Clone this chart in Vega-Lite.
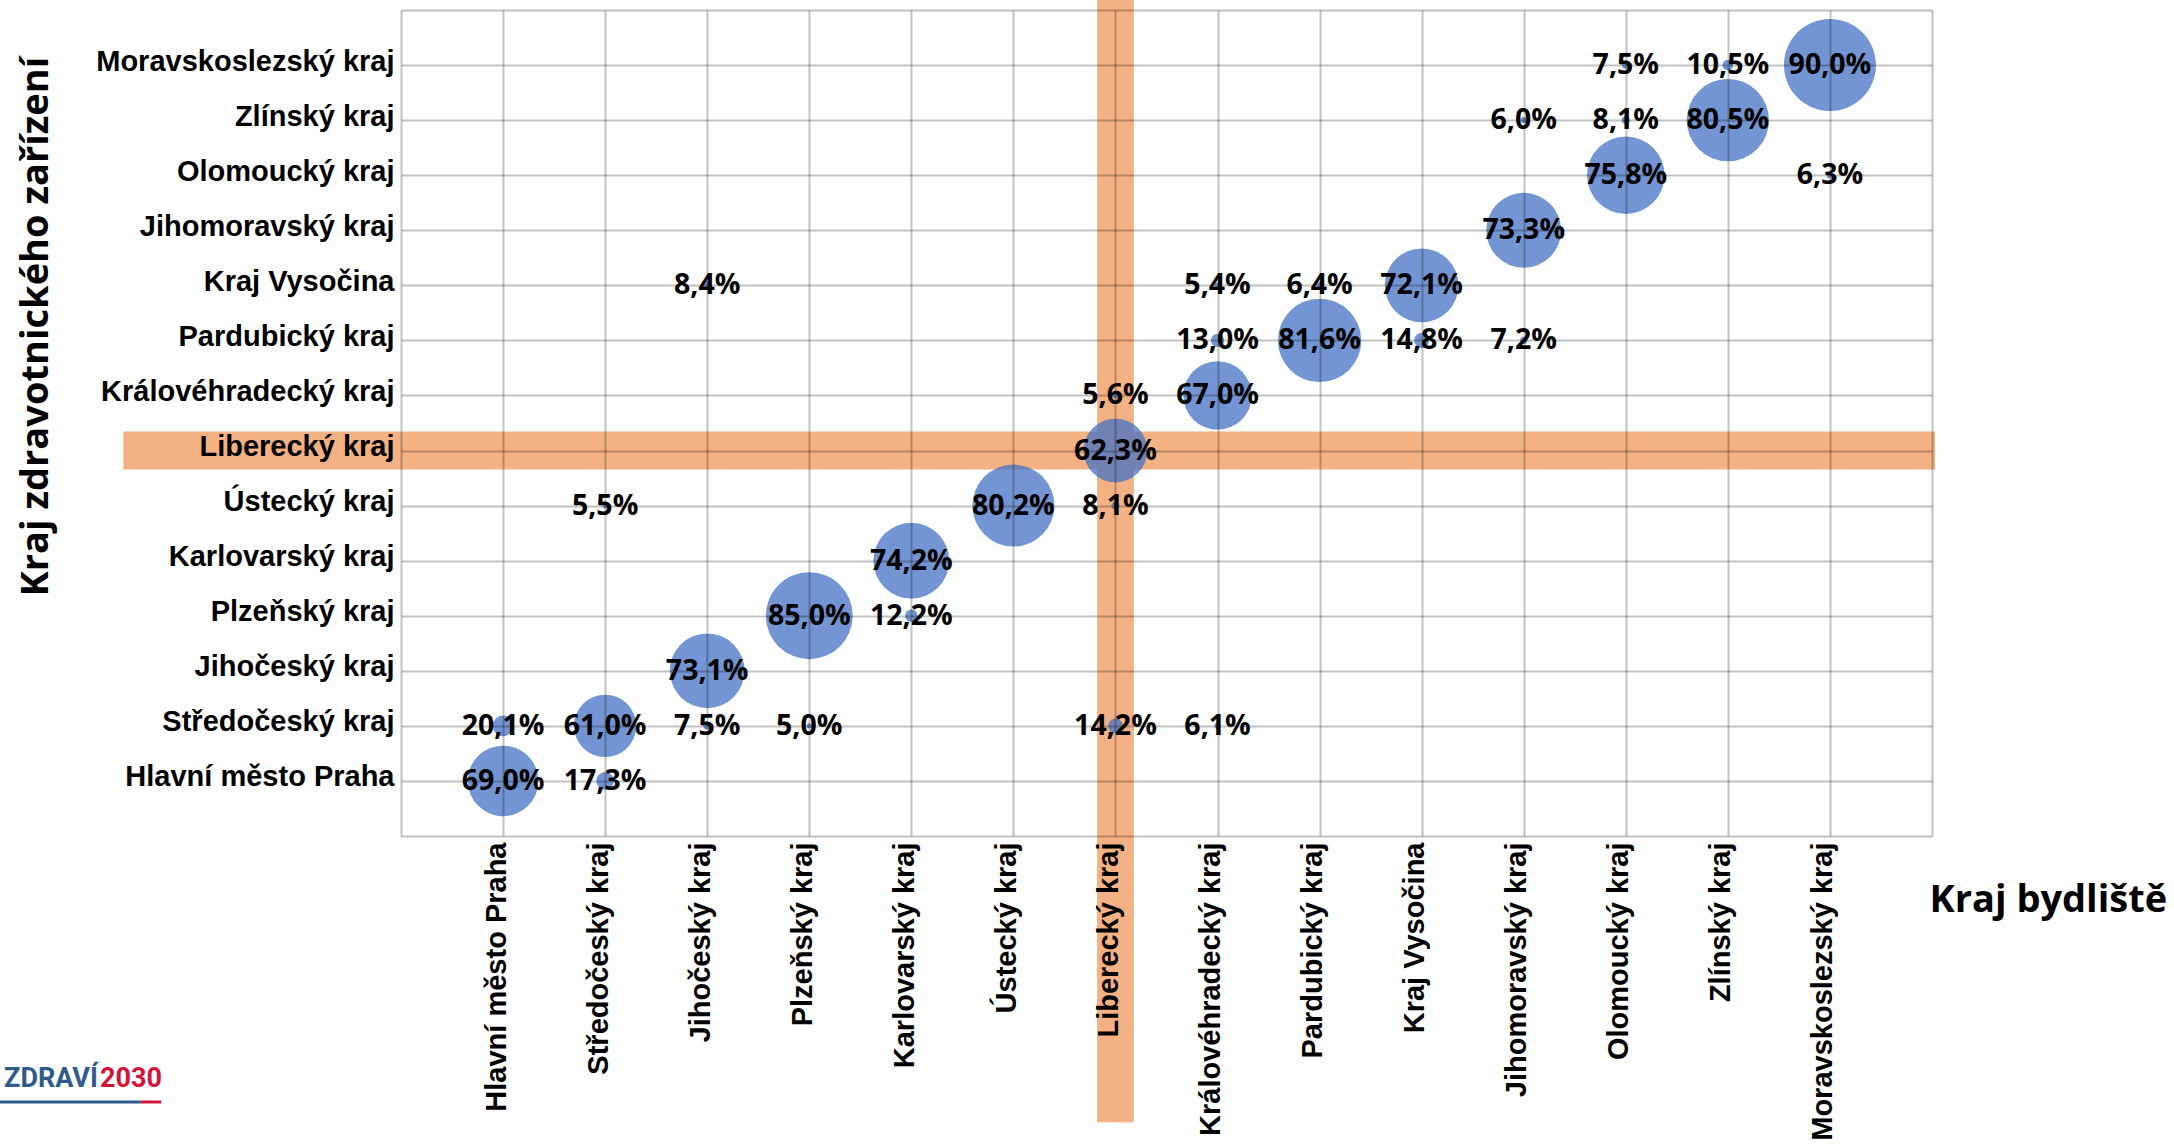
{
  "$schema": "https://vega.github.io/schema/vega-lite/v6.json",
  "width": 1531,
  "height": 826,
  "autosize": {"type": "none"},
  "padding": {"left": 401, "top": 10, "right": 242, "bottom": 308},
  "background": "white",
  "config": {
    "view": {"stroke": null},
    "locale": {"number": {"decimal": ",", "thousands": " ", "grouping": [3], "currency": ["", " Kč"]}}
  },
  "datasets": {
    "pasy": [
      {"pas": "Liberecký kraj (bydliště)", "x1": 6.82, "x2": 7.18, "y1": -5.2, "y2": 15.2},
      {"pas": "Liberecký kraj (zařízení)", "x1": -2.72, "x2": 15.03, "y1": 6.655, "y2": 7.345}
    ],
    "podily": [
      {"bydliste": "Hlavní město Praha", "zarizeni": "Hlavní město Praha", "bi": 1, "zi": 1, "podil": 0.690},
      {"bydliste": "Středočeský kraj", "zarizeni": "Hlavní město Praha", "bi": 2, "zi": 1, "podil": 0.173},
      {"bydliste": "Hlavní město Praha", "zarizeni": "Středočeský kraj", "bi": 1, "zi": 2, "podil": 0.201},
      {"bydliste": "Středočeský kraj", "zarizeni": "Středočeský kraj", "bi": 2, "zi": 2, "podil": 0.610},
      {"bydliste": "Jihočeský kraj", "zarizeni": "Středočeský kraj", "bi": 3, "zi": 2, "podil": 0.075},
      {"bydliste": "Plzeňský kraj", "zarizeni": "Středočeský kraj", "bi": 4, "zi": 2, "podil": 0.050},
      {"bydliste": "Liberecký kraj", "zarizeni": "Středočeský kraj", "bi": 7, "zi": 2, "podil": 0.142},
      {"bydliste": "Královéhradecký kraj", "zarizeni": "Středočeský kraj", "bi": 8, "zi": 2, "podil": 0.061},
      {"bydliste": "Jihočeský kraj", "zarizeni": "Jihočeský kraj", "bi": 3, "zi": 3, "podil": 0.731},
      {"bydliste": "Plzeňský kraj", "zarizeni": "Plzeňský kraj", "bi": 4, "zi": 4, "podil": 0.850},
      {"bydliste": "Karlovarský kraj", "zarizeni": "Plzeňský kraj", "bi": 5, "zi": 4, "podil": 0.122},
      {"bydliste": "Karlovarský kraj", "zarizeni": "Karlovarský kraj", "bi": 5, "zi": 5, "podil": 0.742},
      {"bydliste": "Středočeský kraj", "zarizeni": "Ústecký kraj", "bi": 2, "zi": 6, "podil": 0.055},
      {"bydliste": "Ústecký kraj", "zarizeni": "Ústecký kraj", "bi": 6, "zi": 6, "podil": 0.802},
      {"bydliste": "Liberecký kraj", "zarizeni": "Ústecký kraj", "bi": 7, "zi": 6, "podil": 0.081},
      {"bydliste": "Liberecký kraj", "zarizeni": "Liberecký kraj", "bi": 7, "zi": 7, "podil": 0.623},
      {"bydliste": "Liberecký kraj", "zarizeni": "Královéhradecký kraj", "bi": 7, "zi": 8, "podil": 0.056},
      {"bydliste": "Královéhradecký kraj", "zarizeni": "Královéhradecký kraj", "bi": 8, "zi": 8, "podil": 0.670},
      {"bydliste": "Královéhradecký kraj", "zarizeni": "Pardubický kraj", "bi": 8, "zi": 9, "podil": 0.130},
      {"bydliste": "Pardubický kraj", "zarizeni": "Pardubický kraj", "bi": 9, "zi": 9, "podil": 0.816},
      {"bydliste": "Kraj Vysočina", "zarizeni": "Pardubický kraj", "bi": 10, "zi": 9, "podil": 0.148},
      {"bydliste": "Jihomoravský kraj", "zarizeni": "Pardubický kraj", "bi": 11, "zi": 9, "podil": 0.072},
      {"bydliste": "Jihočeský kraj", "zarizeni": "Kraj Vysočina", "bi": 3, "zi": 10, "podil": 0.084},
      {"bydliste": "Královéhradecký kraj", "zarizeni": "Kraj Vysočina", "bi": 8, "zi": 10, "podil": 0.054},
      {"bydliste": "Pardubický kraj", "zarizeni": "Kraj Vysočina", "bi": 9, "zi": 10, "podil": 0.064},
      {"bydliste": "Kraj Vysočina", "zarizeni": "Kraj Vysočina", "bi": 10, "zi": 10, "podil": 0.721},
      {"bydliste": "Jihomoravský kraj", "zarizeni": "Jihomoravský kraj", "bi": 11, "zi": 11, "podil": 0.733},
      {"bydliste": "Olomoucký kraj", "zarizeni": "Olomoucký kraj", "bi": 12, "zi": 12, "podil": 0.758},
      {"bydliste": "Moravskoslezský kraj", "zarizeni": "Olomoucký kraj", "bi": 14, "zi": 12, "podil": 0.063},
      {"bydliste": "Jihomoravský kraj", "zarizeni": "Zlínský kraj", "bi": 11, "zi": 13, "podil": 0.060},
      {"bydliste": "Olomoucký kraj", "zarizeni": "Zlínský kraj", "bi": 12, "zi": 13, "podil": 0.081},
      {"bydliste": "Zlínský kraj", "zarizeni": "Zlínský kraj", "bi": 13, "zi": 13, "podil": 0.805},
      {"bydliste": "Olomoucký kraj", "zarizeni": "Moravskoslezský kraj", "bi": 12, "zi": 14, "podil": 0.075},
      {"bydliste": "Zlínský kraj", "zarizeni": "Moravskoslezský kraj", "bi": 13, "zi": 14, "podil": 0.105},
      {"bydliste": "Moravskoslezský kraj", "zarizeni": "Moravskoslezský kraj", "bi": 14, "zi": 14, "podil": 0.900}
    ]
  },
  "layer": [
    {
      "data": {"name": "pasy"},
      "mark": {"type": "rect", "color": "#F4B183", "clip": false},
      "encoding": {
        "x": {
          "field": "x1", "type": "quantitative",
          "scale": {"domain": [0, 15], "nice": false, "zero": false},
          "axis": {
            "title": "Kraj bydliště",
            "values": [0, 1, 2, 3, 4, 5, 6, 7, 8, 9, 10, 11, 12, 13, 14, 15],
            "labelExpr": "['', 'Hlavní město Praha', 'Středočeský kraj', 'Jihočeský kraj', 'Plzeňský kraj', 'Karlovarský kraj', 'Ústecký kraj', 'Liberecký kraj', 'Královéhradecký kraj', 'Pardubický kraj', 'Kraj Vysočina', 'Jihomoravský kraj', 'Olomoucký kraj', 'Zlínský kraj', 'Moravskoslezský kraj', ''][datum.value]",
            "labelAngle": -90,
            "labelAlign": "right",
            "labelBaseline": "middle",
            "labelFont": "Liberation Sans",
            "labelFontWeight": "bold",
            "labelFontSize": 29,
            "labelColor": "#000000",
            "labelPadding": 6,
            "labelOffset": -7,
            "labelLimit": 600,
            "labelOverlap": false,
            "labelFlush": false,
            "ticks": false,
            "domain": false,
            "grid": true,
            "gridColor": "#000000",
            "gridOpacity": 0.24,
            "gridWidth": 2,
            "zindex": 1,
            "titleFont": "Open Sans",
            "titleFontWeight": "bold",
            "titleFontSize": 38,
            "titleColor": "#000000",
            "titleX": 1528,
            "titleY": 75,
            "titleAlign": "left",
            "titleBaseline": "alphabetic"
          }
        },
        "x2": {"field": "x2"},
        "y": {
          "field": "y1", "type": "quantitative",
          "scale": {"domain": [0, 15], "nice": false, "zero": false},
          "axis": {
            "title": "Kraj zdravotnického zařízení",
            "values": [0, 1, 2, 3, 4, 5, 6, 7, 8, 9, 10, 11, 12, 13, 14, 15],
            "labelExpr": "['', 'Hlavní město Praha', 'Středočeský kraj', 'Jihočeský kraj', 'Plzeňský kraj', 'Karlovarský kraj', 'Ústecký kraj', 'Liberecký kraj', 'Královéhradecký kraj', 'Pardubický kraj', 'Kraj Vysočina', 'Jihomoravský kraj', 'Olomoucký kraj', 'Zlínský kraj', 'Moravskoslezský kraj', ''][datum.value]",
            "labelAlign": "right",
            "labelBaseline": "middle",
            "labelFont": "Liberation Sans",
            "labelFontWeight": "bold",
            "labelFontSize": 29,
            "labelColor": "#000000",
            "labelPadding": 7,
            "labelOffset": -4,
            "labelLimit": 600,
            "labelOverlap": false,
            "labelFlush": false,
            "ticks": false,
            "domain": false,
            "grid": true,
            "gridColor": "#000000",
            "gridOpacity": 0.24,
            "gridWidth": 2,
            "zindex": 1,
            "titleFont": "Open Sans",
            "titleFontWeight": "bold",
            "titleFontSize": 38,
            "titleColor": "#000000",
            "titleAngle": -90,
            "titleX": -354,
            "titleY": 316,
            "titleAlign": "center",
            "titleBaseline": "alphabetic"
          }
        },
        "y2": {"field": "y2"}
      }
    },
    {
      "data": {"name": "podily"},
      "mark": {"type": "circle", "color": "#4472C4", "opacity": 0.75, "stroke": null},
      "encoding": {
        "x": {"field": "bi", "type": "quantitative", "scale": {"domain": [0, 15], "nice": false, "zero": false}},
        "y": {"field": "zi", "type": "quantitative", "scale": {"domain": [0, 15], "nice": false, "zero": false}},
        "size": {"field": "podil", "type": "quantitative", "scale": {"type": "pow", "exponent": 2, "domain": [0, 0.9], "range": [0, 8464]}, "legend": null}
      }
    },
    {
      "data": {"name": "podily"},
      "mark": {"type": "text", "font": "Open Sans", "fontWeight": "bold", "fontSize": 28.5, "color": "#000000", "align": "center", "baseline": "middle"},
      "encoding": {
        "x": {"field": "bi", "type": "quantitative", "scale": {"domain": [0, 15], "nice": false, "zero": false}},
        "y": {"field": "zi", "type": "quantitative", "scale": {"domain": [0, 15], "nice": false, "zero": false}},
        "text": {"field": "podil", "type": "quantitative", "format": ".1%"}
      }
    },
    {
      "data": {"values": [{}]},
      "mark": {"type": "text", "text": "ZDRAVÍ", "font": "Roboto", "fontWeight": "bold", "fontSize": 27, "color": "#2E5B8C", "align": "right", "baseline": "alphabetic"},
      "encoding": {
        "x": {"datum": -2.97, "type": "quantitative"},
        "y": {"datum": -4.56, "type": "quantitative"}
      }
    },
    {
      "data": {"values": [{}]},
      "mark": {"type": "text", "text": "2030", "font": "Roboto", "fontWeight": "bold", "fontSize": 27, "color": "#D2143A", "align": "left", "baseline": "alphabetic"},
      "encoding": {
        "x": {"datum": -2.95, "type": "quantitative"},
        "y": {"datum": -4.56, "type": "quantitative"}
      }
    },
    {
      "data": {"values": [{}]},
      "mark": {"type": "rule", "color": "#2E5B8C", "strokeWidth": 3},
      "encoding": {
        "x": {"datum": -3.93, "type": "quantitative"},
        "x2": {"datum": -2.55},
        "y": {"datum": -4.83, "type": "quantitative"}
      }
    },
    {
      "data": {"values": [{}]},
      "mark": {"type": "rule", "color": "#D2143A", "strokeWidth": 3},
      "encoding": {
        "x": {"datum": -2.55, "type": "quantitative"},
        "x2": {"datum": -2.35},
        "y": {"datum": -4.83, "type": "quantitative"}
      }
    }
  ]
}
